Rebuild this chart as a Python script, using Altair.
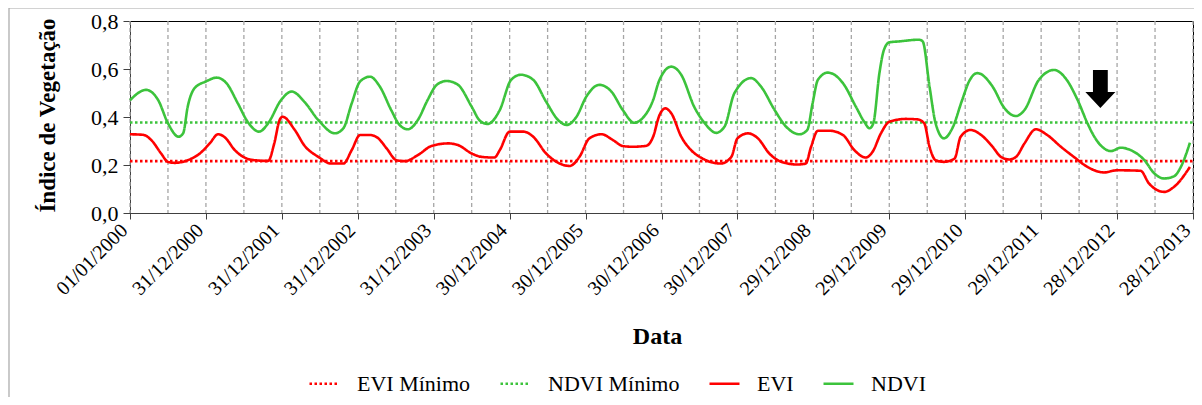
import json
import altair as alt
import pandas as pd

# ---- axis tick labels (one per 365-day step from 01/01/2000) ----
tick_labels = ["01/01/2000", "31/12/2000", "31/12/2001", "31/12/2002", "31/12/2003",
               "30/12/2004", "30/12/2005", "30/12/2006", "30/12/2007", "29/12/2008",
               "29/12/2009", "29/12/2010", "29/12/2011", "28/12/2012", "28/12/2013"]
tick_pos = list(range(len(tick_labels)))          # years (365 d) since 01/01/2000
y_ticks = [0.0, 0.2, 0.4, 0.6, 0.8]

# ---- NDVI series (time in years since 01/01/2000, value) ----
ndvi_t = [0.00, 0.21, 0.37, 0.50, 0.64, 0.70, 0.76, 0.85, 1.00, 1.14, 1.27, 1.42, 1.55, 1.70,
          1.82, 1.99, 2.13, 2.30, 2.48, 2.70, 2.81, 2.92, 3.03, 3.16, 3.29, 3.44, 3.55, 3.66,
          3.79, 3.92, 4.04, 4.17, 4.32, 4.50, 4.61, 4.71, 4.87, 5.02, 5.15, 5.31, 5.48, 5.64,
          5.75, 5.88, 6.01, 6.18, 6.34, 6.49, 6.64, 6.75, 6.89, 6.97, 7.13, 7.26, 7.43, 7.57,
          7.72, 7.83, 7.96, 8.18, 8.31, 8.49, 8.64, 8.82, 8.92, 8.99, 9.06, 9.19, 9.39, 9.56,
          9.67, 9.74, 9.79, 9.87, 9.93, 10.00, 10.13, 10.39, 10.44, 10.53, 10.61, 10.72, 10.83,
          10.96, 11.05, 11.16, 11.36, 11.51, 11.60, 11.67, 11.78, 11.97, 12.17, 12.32, 12.48,
          12.61, 12.70, 12.83, 12.92, 13.05, 13.18, 13.36, 13.49, 13.62, 13.75, 13.84, 13.96]
ndvi_v = [0.470, 0.513, 0.471, 0.374, 0.318, 0.332, 0.443, 0.520, 0.548, 0.564, 0.541, 0.457,
          0.380, 0.339, 0.374, 0.471, 0.506, 0.462, 0.387, 0.332, 0.353, 0.457, 0.548, 0.568,
          0.527, 0.429, 0.367, 0.349, 0.387, 0.471, 0.534, 0.550, 0.534, 0.443, 0.384, 0.371,
          0.429, 0.555, 0.576, 0.555, 0.464, 0.387, 0.367, 0.401, 0.485, 0.534, 0.506, 0.429,
          0.376, 0.395, 0.471, 0.552, 0.610, 0.576, 0.443, 0.374, 0.334, 0.360, 0.499, 0.562,
          0.527, 0.429, 0.360, 0.328, 0.346, 0.457, 0.555, 0.585, 0.541, 0.443, 0.380, 0.353,
          0.374, 0.583, 0.680, 0.711, 0.715, 0.722, 0.715, 0.527, 0.374, 0.311, 0.353, 0.471,
          0.548, 0.583, 0.527, 0.440, 0.411, 0.404, 0.429, 0.555, 0.596, 0.562, 0.471, 0.374,
          0.318, 0.269, 0.258, 0.272, 0.262, 0.220, 0.165, 0.144, 0.153, 0.192, 0.293]

# ---- EVI series ----
evi_t = [0.00, 0.17, 0.28, 0.41, 0.50, 0.59, 0.76, 0.92, 1.05, 1.16, 1.25, 1.38, 1.49, 1.64,
         1.82, 1.90, 1.97, 2.01, 2.17, 2.30, 2.48, 2.65, 2.81, 2.92, 3.03, 3.16, 3.27, 3.38,
         3.51, 3.62, 3.79, 3.97, 4.19, 4.32, 4.50, 4.63, 4.80, 4.87, 5.00, 5.18, 5.31, 5.48,
         5.66, 5.79, 5.92, 6.05, 6.21, 6.36, 6.49, 6.62, 6.80, 6.89, 6.97, 7.05, 7.13, 7.26,
         7.39, 7.54, 7.78, 7.92, 8.00, 8.14, 8.27, 8.42, 8.58, 8.79, 8.90, 8.97, 9.06, 9.21,
         9.39, 9.54, 9.69, 9.78, 9.89, 10.00, 10.22, 10.37, 10.46, 10.53, 10.61, 10.72, 10.86,
         10.94, 11.07, 11.21, 11.36, 11.47, 11.58, 11.67, 11.78, 11.93, 12.08, 12.26, 12.43,
         12.61, 12.83, 13.00, 13.31, 13.42, 13.62, 13.75, 13.96]
evi_v = [0.328, 0.326, 0.304, 0.248, 0.213, 0.209, 0.220, 0.248, 0.290, 0.328, 0.315, 0.262,
         0.234, 0.220, 0.217, 0.290, 0.387, 0.401, 0.346, 0.280, 0.234, 0.206, 0.206, 0.262,
         0.325, 0.325, 0.311, 0.269, 0.220, 0.216, 0.241, 0.279, 0.290, 0.283, 0.248, 0.234,
         0.231, 0.262, 0.339, 0.339, 0.318, 0.248, 0.206, 0.196, 0.234, 0.311, 0.328, 0.304,
         0.279, 0.276, 0.280, 0.318, 0.405, 0.436, 0.415, 0.318, 0.262, 0.227, 0.206, 0.234,
         0.311, 0.332, 0.311, 0.248, 0.213, 0.202, 0.206, 0.276, 0.343, 0.343, 0.325, 0.262,
         0.231, 0.255, 0.332, 0.380, 0.392, 0.390, 0.374, 0.276, 0.220, 0.213, 0.227, 0.318,
         0.346, 0.325, 0.276, 0.234, 0.223, 0.234, 0.290, 0.349, 0.325, 0.276, 0.234, 0.192,
         0.169, 0.178, 0.176, 0.123, 0.088, 0.109, 0.192]

evi_min = 0.216
ndvi_min = 0.377

series_names = ["EVI Mínimo", "NDVI Mínimo", "EVI", "NDVI"]
series_colors = ["#ff0000", "#3cc33c", "#ff0000", "#3cc33c"]
series_dash = [[2.5, 2.5], [2.5, 2.5], [1, 0], [1, 0]]

arrow_t = [12.78]
arrow_v = [0.517]

FONT = "Liberation Serif"

# ---- tables ----
rows = []
t0, t1 = tick_pos[0], tick_pos[-1]
for t in (t0, t1):
    rows.append({"t": t, "valor": evi_min, "serie": "EVI Mínimo", "ordem": 0})
    rows.append({"t": t, "valor": ndvi_min, "serie": "NDVI Mínimo", "ordem": 1})
for t, v in zip(evi_t, evi_v):
    rows.append({"t": t, "valor": v, "serie": "EVI", "ordem": 2})
for t, v in zip(ndvi_t, ndvi_v):
    rows.append({"t": t, "valor": v, "serie": "NDVI", "ordem": 3})
df = pd.DataFrame(rows)

grid_df = pd.DataFrame({"t": [i / 2 for i in range(2 * t1 + 1)]})
arrow_df = pd.DataFrame({"t": arrow_t, "valor": arrow_v})

x_scale = alt.Scale(domain=[t0, t1], nice=False, zero=False)
y_scale = alt.Scale(domain=[0, 0.8], nice=False)

label_expr = json.dumps(tick_labels, ensure_ascii=False) + "[round(datum.value)]"

x_axis = alt.Axis(values=tick_pos, labelExpr=label_expr, labelAngle=-45,
                  labelAlign="right", labelBaseline="middle", labelPadding=8,
                  labelOffset=-6,
                  labelFont=FONT, labelFontSize=20, labelColor="black",
                  tickSize=6, tickColor="#404040", domainColor="#404040",
                  grid=False, labelOverlap=False,
                  title="Data", titleFont=FONT, titleFontSize=24,
                  titleFontWeight="bold", titleColor="black",
                  titleBaseline="alphabetic", titleY=130, titleX=527)
y_axis = alt.Axis(values=y_ticks,
                  labelExpr="replace(format(datum.value, '.1f'), '.', ',')",
                  labelFont=FONT, labelFontSize=22, labelColor="black",
                  labelPadding=5, tickSize=7, tickColor="#404040",
                  domainColor="#404040", grid=False,
                  title="Índice de Vegetação", titleFont=FONT, titleFontSize=23,
                  titleFontWeight="bold", titleColor="black",
                  titleBaseline="alphabetic", titleX=-76, titleY=94)

grid = alt.Chart(grid_df).mark_rule(color="#a6a6a6", strokeWidth=1.3, strokeDash=[4, 3]).encode(
    x=alt.X("t:Q", scale=x_scale, axis=x_axis)
)

lines = alt.Chart(df).mark_line(interpolate="monotone", strokeWidth=2.6).encode(
    x=alt.X("t:Q", scale=x_scale, axis=x_axis),
    y=alt.Y("valor:Q", scale=y_scale, axis=y_axis),
    color=alt.Color("serie:N", scale=alt.Scale(domain=series_names, range=series_colors),
                    title=None,
                    legend=alt.Legend(orient="none", legendX=178, legendY=346,
                                      direction="horizontal", symbolType="stroke",
                                      symbolSize=900, symbolStrokeWidth=2.6,
                                      labelFont=FONT, labelFontSize=22, labelColor="black",
                                      labelOffset=16, columnPadding=24, padding=0)),
    strokeDash=alt.StrokeDash("serie:N",
                              scale=alt.Scale(domain=series_names, range=series_dash),
                              title=None),
    order=alt.Order("ordem:Q"),
)

arrow = alt.Chart(arrow_df).mark_point(
    shape="M -0.39 -1 L 0.39 -1 L 0.39 0.16 L 0.79 0.16 L 0 1 L -0.79 0.16 L -0.39 0.16 Z",
    filled=True, color="black", opacity=1, size=1444, strokeWidth=0
).encode(
    x=alt.X("t:Q", scale=x_scale, axis=x_axis),
    y=alt.Y("valor:Q", scale=y_scale, axis=y_axis),
)

deco = pd.DataFrame({"k": [0]})
border_left = alt.Chart(deco).mark_rule(color="#a6a6a6", strokeWidth=1.2).encode(
    x=alt.value(-121), y=alt.value(-13), y2=alt.value(380)
)
border_top = alt.Chart(deco).mark_rule(color="#a6a6a6", strokeWidth=1.2).encode(
    x=alt.value(-121), x2=alt.value(1064), y=alt.value(-13)
)

chart = alt.layer(border_left, border_top, grid, lines, arrow).properties(
    width=1063, height=192,
    autosize=alt.AutoSizeParams(type="none"),
    padding={"left": 122, "top": 13, "right": 1, "bottom": 184},
).configure(font=FONT).configure_view(stroke="black", strokeWidth=1).configure_axis(
    labelFont=FONT, titleFont=FONT
).configure_legend(labelFont=FONT)

chart.save("out.html", embed_options={"renderer": "svg", "actions": False})
